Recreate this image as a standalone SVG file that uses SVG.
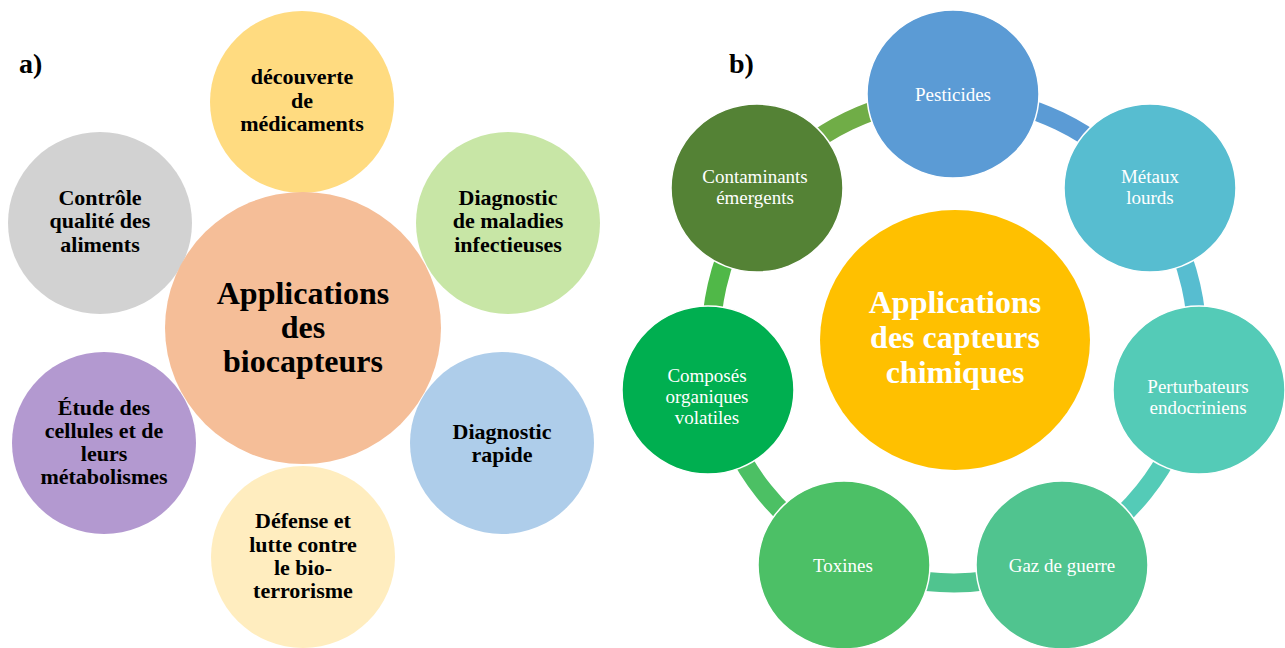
<svg xmlns="http://www.w3.org/2000/svg" width="1285" height="648" viewBox="0 0 1285 648">
<style>
.a{font-family:"Liberation Serif","Times New Roman",serif;font-weight:bold;font-size:22px;fill:#000;text-anchor:middle}
.ac{font-family:"Liberation Serif","Times New Roman",serif;font-weight:bold;font-size:32px;fill:#000;text-anchor:middle}
.b{font-family:"Liberation Serif","Times New Roman",serif;font-size:19px;fill:#fff;text-anchor:middle}
.bc{font-family:"Liberation Serif","Times New Roman",serif;font-weight:bold;font-size:32px;fill:#fff;text-anchor:middle}
.lbl{font-family:"Liberation Serif","Times New Roman",serif;font-weight:bold;font-size:28px;fill:#000}
.n{stroke:#fff;stroke-width:1.5}
.arc{fill:none;stroke-width:19}
</style>
<rect width="1285" height="648" fill="#fff"/>
<text class="lbl" x="19" y="73">a)</text>
<text class="lbl" x="729" y="73">b)</text>

<!-- Part a -->
<g id="a-top">
<ellipse cx="302" cy="102" rx="92" ry="91" fill="#FFDB80"/>
<text class="a" x="302" y="84">découverte</text>
<text class="a" x="302" y="108">de</text>
<text class="a" x="302" y="131">médicaments</text>
</g>
<g id="a-controle">
<ellipse cx="100" cy="223" rx="92" ry="91" fill="#D2D2D2"/>
<text class="a" x="100" y="205">Contrôle</text>
<text class="a" x="100" y="228">qualité des</text>
<text class="a" x="100" y="252">aliments</text>
</g>
<g id="a-infect">
<ellipse cx="508" cy="223" rx="92" ry="91" fill="#C8E6A6"/>
<text class="a" x="508" y="205">Diagnostic</text>
<text class="a" x="508" y="228">de maladies</text>
<text class="a" x="508" y="252">infectieuses</text>
</g>
<g id="a-etude">
<ellipse cx="104" cy="443" rx="92" ry="91" fill="#B399D0"/>
<text class="a" x="104" y="415">Étude des</text>
<text class="a" x="104" y="438">cellules et de</text>
<text class="a" x="104" y="461">leurs</text>
<text class="a" x="104" y="484">métabolismes</text>
</g>
<g id="a-rapide">
<ellipse cx="502" cy="443" rx="92" ry="91" fill="#AECDEA"/>
<text class="a" x="502" y="439">Diagnostic</text>
<text class="a" x="502" y="462">rapide</text>
</g>
<g id="a-defense">
<ellipse cx="303" cy="557" rx="92" ry="91" fill="#FFEDBF"/>
<text class="a" x="303" y="528">Défense et</text>
<text class="a" x="303" y="552">lutte contre</text>
<text class="a" x="303" y="575">le bio-</text>
<text class="a" x="303" y="598">terrorisme</text>
</g>
<g id="a-center">
<ellipse cx="303" cy="328" rx="138" ry="136" fill="#F5BE98"/>
<text class="ac" x="303" y="304">Applications</text>
<text class="ac" x="303" y="338">des</text>
<text class="ac" x="303" y="372">biocapteurs</text>
</g>

<!-- Part b connectors -->
<g id="connectors">
<path class="arc" stroke="#5B9BD5" d="M954 97 A243 243 0 0 1 1144 188.5"/>
<path class="arc" stroke="#57BDD0" d="M1144 188.5 A243 243 0 0 1 1190.9 394.1"/>
<path class="arc" stroke="#54CBB7" d="M1190.9 394.1 A243 243 0 0 1 1059.4 558.9"/>
<path class="arc" stroke="#50C48F" d="M1059.4 558.9 A243 243 0 0 1 848.6 558.9"/>
<path class="arc" stroke="#4CC064" d="M848.6 558.9 A243 243 0 0 1 717.1 394.1"/>
<path class="arc" stroke="#50B848" d="M717.1 394.1 A243 243 0 0 1 764 188.5"/>
<path class="arc" stroke="#70AD47" d="M764 188.5 A243 243 0 0 1 954 97"/>
</g>

<g id="b-center">
<ellipse cx="955" cy="340" rx="135" ry="130" fill="#FFC000"/>
<text class="bc" x="955" y="313">Applications</text>
<text class="bc" x="955" y="348">des capteurs</text>
<text class="bc" x="955" y="383">chimiques</text>
</g>
<g id="b-pesticides">
<ellipse class="n" cx="953" cy="94" rx="86" ry="84" fill="#5B9BD5"/>
<text class="b" x="953" y="101">Pesticides</text>
</g>
<g id="b-metaux">
<ellipse class="n" cx="1150" cy="188" rx="86" ry="84" fill="#57BDD0"/>
<text class="b" x="1150" y="183">Métaux</text>
<text class="b" x="1150" y="204">lourds</text>
</g>
<g id="b-perturb">
<ellipse class="n" cx="1199" cy="390" rx="86" ry="84" fill="#54CBB7"/>
<text class="b" x="1198" y="393">Perturbateurs</text>
<text class="b" x="1198" y="414">endocriniens</text>
</g>
<g id="b-gaz">
<ellipse class="n" cx="1062" cy="565" rx="86" ry="84" fill="#50C48F"/>
<text class="b" x="1062" y="572">Gaz de guerre</text>
</g>
<g id="b-toxines">
<ellipse class="n" cx="844" cy="565" rx="86" ry="84" fill="#4CC066"/>
<text class="b" x="843" y="572">Toxines</text>
</g>
<g id="b-cov">
<ellipse class="n" cx="708" cy="390" rx="86" ry="84" fill="#00AF50"/>
<text class="b" x="707" y="382">Composés</text>
<text class="b" x="707" y="403">organiques</text>
<text class="b" x="707" y="424">volatiles</text>
</g>
<g id="b-contam">
<ellipse class="n" cx="757" cy="188" rx="86" ry="84" fill="#548235"/>
<text class="b" x="755" y="183">Contaminants</text>
<text class="b" x="755" y="204">émergents</text>
</g>
</svg>
